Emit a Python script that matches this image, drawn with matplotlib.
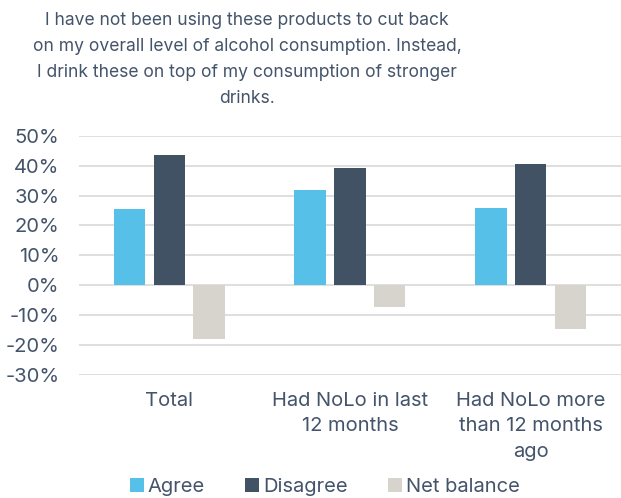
import matplotlib.pyplot as plt
import numpy as np
from matplotlib.ticker import FuncFormatter

plt.rcParams['font.family'] = ['Inter', 'DejaVu Sans']

categories = ["Total", "Had NoLo in last\n12 months", "Had NoLo more\nthan 12 months\nago"]
agree = [25.5, 32.0, 25.8]
disagree = [43.5, 39.2, 40.4]
net_balance = [-18.0, -7.2, -14.6]

series_names = ["Agree", "Disagree", "Net balance"]
colors = ["#56C0E8", "#405263", "#D7D3CD"]
text_col = "#44546A"

fig = plt.figure(figsize=(6.21, 4.98), dpi=100)
ax = fig.add_axes([0.127, 0.247, 0.873, 0.4805])

x = np.arange(len(categories))
w = 0.174
step = 0.22
for i, (vals, name, c) in enumerate(zip([agree, disagree, net_balance], series_names, colors)):
    ax.bar(x + (i - 1) * step, vals, width=w, color=c, label=name, zorder=3)

ax.set_xlim(-0.5, 2.5)
ax.set_ylim(-30, 50)
ax.set_yticks(np.arange(-30, 51, 10))
ax.yaxis.set_major_formatter(FuncFormatter(lambda v, p: f"{v:.0f}%"))
ax.grid(axis="y", color="#D9D9D9", linewidth=1.2, zorder=0)
for s in ax.spines.values():
    s.set_visible(False)
ax.tick_params(axis="both", length=0, labelsize=14.5, labelcolor=text_col)
ax.tick_params(axis="y", pad=14)
ax.set_xticks(x)
ax.set_xticklabels(categories, linespacing=1.55)
ax.tick_params(axis="x", pad=12)

fig.text(0.398, 0.976,
         "I have not been using these products to cut back\n"
         "on my overall level of alcohol consumption. Instead,\n"
         "I drink these on top of my consumption of stronger\n"
         "drinks.",
         ha="center", va="top", fontsize=12.6, color=text_col, linespacing=1.7)

ax.legend(loc="lower center", bbox_to_anchor=(0.454, -0.58), ncol=3, frameon=False,
          fontsize=14.5, labelcolor=text_col, handlelength=0.7, handleheight=0.7,
          handletextpad=0.2, columnspacing=2.0)

fig.savefig("out.png", dpi=100)
